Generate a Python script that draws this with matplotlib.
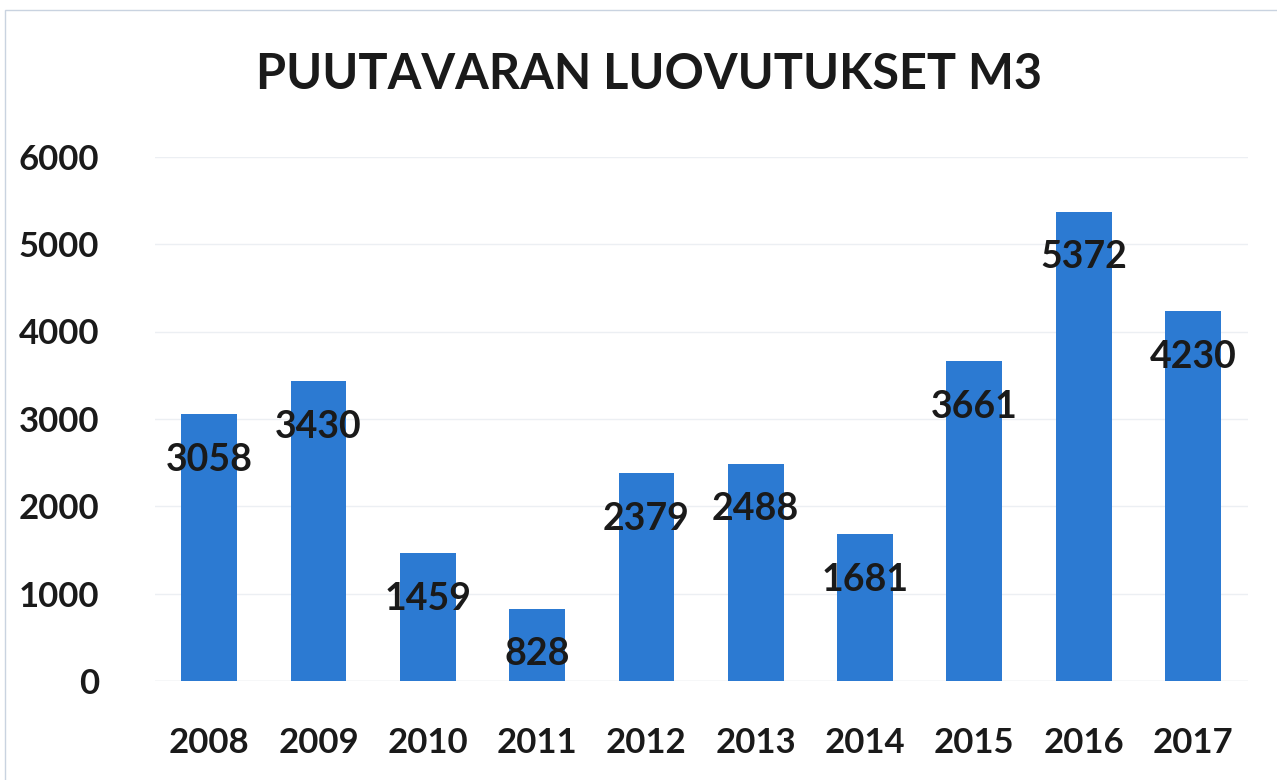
import matplotlib
matplotlib.use("Agg")
import matplotlib.pyplot as plt

years = ['2008', '2009', '2010', '2011', '2012', '2013', '2014', '2015', '2016', '2017']
values = [3058, 3430, 1459, 828, 2379, 2488, 1681, 3661, 5372, 4230]
yticks = [0, 1000, 2000, 3000, 4000, 5000, 6000]

plt.rcParams['font.family'] = ['Lato', 'DejaVu Sans']

fig = plt.figure(figsize=(12.77, 7.8), dpi=100)
ax = fig.add_axes([0.121, 0.127, 0.856, 0.672])

x = range(len(years))
bars = ax.bar(x, values, width=0.51, color='#2c7ad2', zorder=2)

for b, v in zip(bars, values):
    ax.annotate(str(v), (b.get_x() + b.get_width() / 2, v), xytext=(0, -33),
                textcoords='offset points', ha='center', va='center',
                fontsize=27, fontweight='bold', color='#1a1a1a', zorder=3)

ax.set_xlim(-0.5, 9.5)
ax.set_ylim(0, 6000)
ax.set_yticks(yticks)
ax.set_xticks(list(x))
ax.set_xticklabels(years)
ax.tick_params(axis='both', length=0, labelsize=25, colors='#1a1a1a')
ax.tick_params(axis='y', pad=40)
ax.tick_params(axis='x', pad=33)
for lab in ax.get_xticklabels() + ax.get_yticklabels():
    lab.set_fontweight('bold')
ax.grid(axis='y', color='#eceff3', linewidth=1, zorder=0)
for s in ax.spines.values():
    s.set_visible(False)
ax.axhline(0, color='#e2e6ea', linewidth=1, zorder=1)

fig.text(0.508, 0.905, 'PUUTAVARAN LUOVUTUKSET M3', ha='center', va='center',
         fontsize=35, fontweight='bold', color='#1a1a1a')

# thin scan frame
fig.add_artist(plt.Rectangle((0.004, -0.01), 1.0, 0.997, transform=fig.transFigure,
                             fill=False, edgecolor='#c9d3e0', linewidth=1))

fig.savefig('out.png', dpi=100)
